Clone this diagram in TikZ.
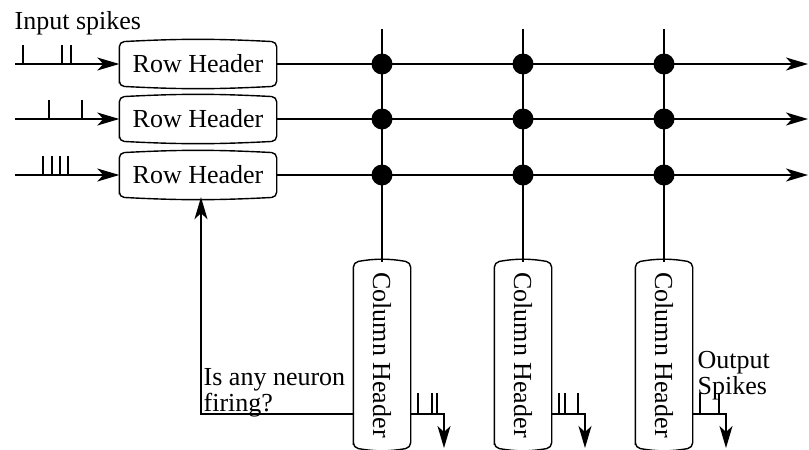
\documentclass[tikz,border=0pt]{standalone}
\usepackage{fontspec}
\setmainfont{Liberation Serif}
\usepackage{graphicx}
\usetikzlibrary{arrows.meta}

\begin{document}
\begin{tikzpicture}[x=0.5pt, y=-0.5pt, line width=0.7pt,
  every node/.style={font=\fontsize{13}{10.5}\selectfont, inner sep=0pt},
  rowhdr/.style={minimum width=78pt, minimum height=21.5pt},
  colhdr/.style={minimum width=28pt, minimum height=92pt},
  xdot/.style={circle, fill, minimum size=10.5pt},
  arr/.style={-{Stealth[length=11pt, width=6.5pt, inset=3pt]}},
  tick/.style={line width=0.6pt}]
\useasboundingbox (0,0) rectangle (809,450);

\node[anchor=north west] (lbl) at (14,11) {Input spikes};

% row headers with their input and output lines
\foreach \i/\y in {1/64,2/119,3/175} {
  \node[rowhdr] (rh\i) at (198,\y) {Row Header};
  \coordinate (in\i) at (15,\y);
  \coordinate (out\i) at (808,\y);
  \draw[arr] (in\i) -- (rh\i);
  \draw[arr] (rh\i) -- (out\i);
}

% column headers
\foreach \j/\x in {1/382,2/523,3/664} {
  \node[colhdr] (ch\j) at (\x,355) {\rotatebox{-90}{Column Header}};
  \coordinate (top\j) at (\x,29);
  \draw (top\j) -- (ch\j);
}

% header outlines, slightly bulged at the ends
\foreach \n/\b in {rh1/3,rh2/3,rh3/3,ch1/10,ch2/10,ch3/10}
  \draw[rounded corners=2.5pt] (\n.south west) -- (\n.north west) to[bend left=\b] (\n.north east)
    -- (\n.south east) to[bend left=\b] cycle;

% crosspoints
\foreach \i in {1,2,3}
  \foreach \j in {1,2,3}
    \node[xdot] (d\i\j) at (ch\j |- rh\i) {};

% input spike trains
\foreach \x in {23,62,71} \draw[tick] (\x,64) -- (\x,45);
\foreach \x in {49,82} \draw[tick] (\x,119) -- (\x,100);
\foreach \x in {43,52,60,68} \draw[tick] (\x,175) -- (\x,156);

% feedback to the row headers
\coordinate (fb) at (201,414);
\draw[arr] (ch1.west |- fb) -- (fb) -- (fb |- rh3.south);
\node[anchor=north west, align=left] (ask) at (203,368) {Is any neuron\\firing?};

% outputs
\foreach \j/\x in {1/444,2/585,3/726} {
  \coordinate (o\j) at (\x,414);
  \coordinate (e\j) at (\x,448);
  \draw[arr] (ch\j.east |- o\j) -- (o\j) -- (e\j);
}
\foreach \x in {418,432,437,559,565,578,700,719} \draw[tick] (\x,414) -- (\x,393);
\node[anchor=north west, align=left] (outlbl) at (697,351) {Output\\Spikes};
\end{tikzpicture}
\end{document}
